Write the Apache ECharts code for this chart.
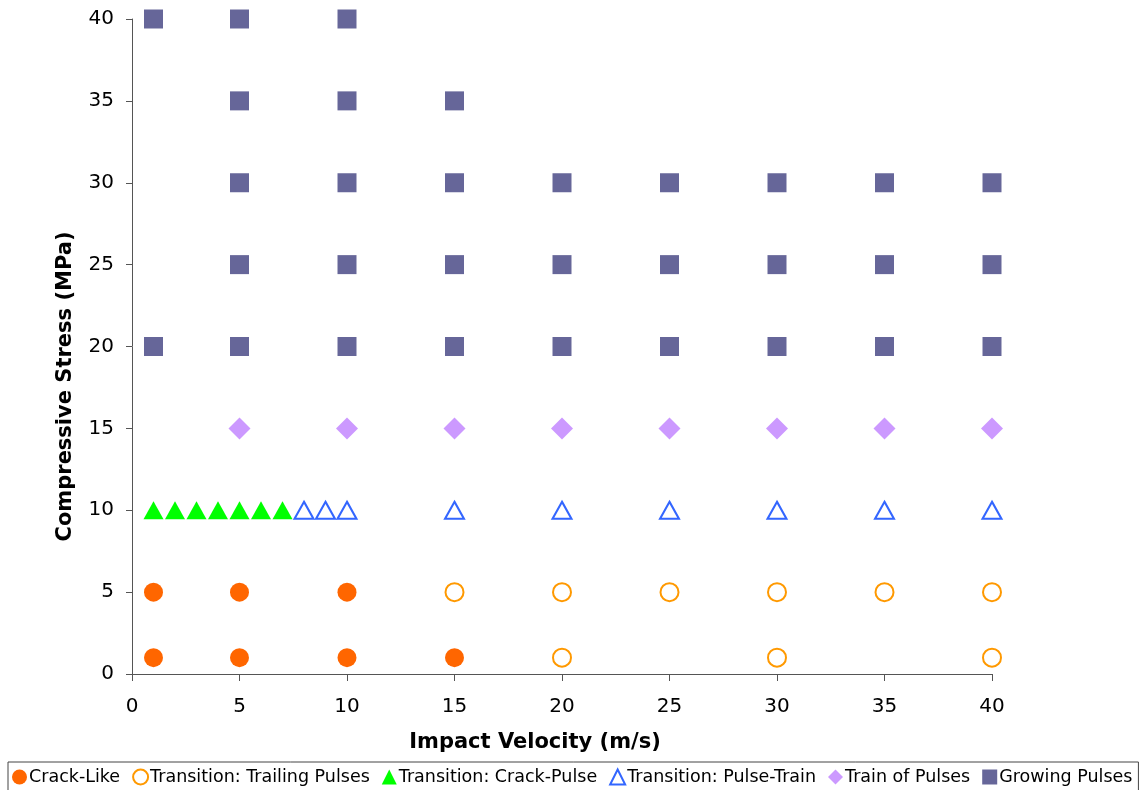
<!DOCTYPE html>
<html lang="en">
<head>
    <meta charset="UTF-8">
    <title>Impact Velocity vs Compressive Stress</title>
    <script type="text/javascript" src="https://cdn.jsdelivr.net/npm/echarts@6/dist/echarts.min.js"></script>
    <style>
        html, body { margin: 0; padding: 0; background: #fff; }
    </style>
</head>
<body>
<div id="main" style="width: 1147px;height:790px;"></div>
<script type="text/javascript">
    // [velocity, stress]
    var crackLike = [[1, 1], [5, 1], [10, 1], [15, 1], [1, 5], [5, 5], [10, 5]];
    var trailingPulses = [[20, 1], [30, 1], [40, 1], [15, 5], [20, 5], [25, 5], [30, 5], [35, 5], [40, 5]];
    var crackPulse = [[1, 10], [2, 10], [3, 10], [4, 10], [5, 10], [6, 10], [7, 10]];
    var pulseTrain = [[8, 10], [9, 10], [10, 10], [15, 10], [20, 10], [25, 10], [30, 10], [35, 10], [40, 10]];
    var trainOfPulses = [[5, 15], [10, 15], [15, 15], [20, 15], [25, 15], [30, 15], [35, 15], [40, 15]];
    var growingPulses = [
        [1, 20], [5, 20], [10, 20], [15, 20], [20, 20], [25, 20], [30, 20], [35, 20], [40, 20],
        [5, 25], [10, 25], [15, 25], [20, 25], [25, 25], [30, 25], [35, 25], [40, 25],
        [5, 30], [10, 30], [15, 30], [20, 30], [25, 30], [30, 30], [35, 30], [40, 30],
        [5, 35], [10, 35], [15, 35],
        [1, 40], [5, 40], [10, 40]
    ];

    var font = 'Verdana, "DejaVu Sans", sans-serif';

    var option = {
        animation: false,
        textStyle: { fontFamily: font },
        legend: {
            left: 8,
            top: 762,
            padding: [6, 6, 8, 4],
            itemGap: 12,
            itemWidth: 15,
            itemHeight: 15,
            borderColor: '#444',
            borderWidth: 1,
            textStyle: { fontFamily: font, fontSize: 17.5, color: '#000', padding: [0, 0, 0, -3] },
            data: ['Crack-Like', 'Transition: Trailing Pulses', 'Transition: Crack-Pulse',
                'Transition: Pulse-Train', 'Train of Pulses', 'Growing Pulses']
        },
        grid: {
            left: 132,
            right: 155,
            top: 19,
            bottom: 116
        },
        xAxis: {
            type: 'value',
            min: 0,
            max: 40,
            interval: 5,
            name: 'Impact Velocity (m/s)',
            nameLocation: 'middle',
            nameGap: 58,
            nameTextStyle: { fontFamily: font, fontSize: 21, fontWeight: 'bold', color: '#000', padding: [0, 54, 0, 0] },
            axisLine: { lineStyle: { color: '#555', width: 1 } },
            axisTick: { length: 7, lineStyle: { color: '#555' } },
            axisLabel: { fontFamily: font, fontSize: 20, color: '#000', margin: 23 },
            splitLine: { show: false }
        },
        yAxis: {
            type: 'value',
            min: 0,
            max: 40,
            interval: 5,
            name: 'Compressive Stress (MPa)',
            nameLocation: 'middle',
            nameGap: 56,
            nameTextStyle: { fontFamily: font, fontSize: 21, fontWeight: 'bold', color: '#000', padding: [0, 80, 0, 0] },
            axisLine: { show: true, lineStyle: { color: '#555', width: 1 } },
            axisTick: { show: true, length: 6, lineStyle: { color: '#555' } },
            axisLabel: { fontFamily: font, fontSize: 20, color: '#000', margin: 18 },
            splitLine: { show: false }
        },
        series: [
            {
                name: 'Crack-Like',
                type: 'scatter',
                symbol: 'circle',
                symbolSize: 19,
                itemStyle: { color: '#FF6600', opacity: 1 },
                data: crackLike
            },
            {
                name: 'Transition: Trailing Pulses',
                type: 'scatter',
                symbol: 'emptyCircle',
                symbolSize: 18,
                itemStyle: { color: '#FF9900', borderWidth: 1.6, opacity: 1 },
                data: trailingPulses
            },
            {
                name: 'Transition: Crack-Pulse',
                type: 'scatter',
                symbol: 'triangle',
                symbolSize: [20, 18],
                itemStyle: { color: '#00FF00', opacity: 1 },
                data: crackPulse
            },
            {
                name: 'Transition: Pulse-Train',
                type: 'scatter',
                symbol: 'emptyTriangle',
                symbolSize: [19, 17],
                itemStyle: { color: '#3366FF', borderWidth: 1.4, opacity: 1 },
                data: pulseTrain
            },
            {
                name: 'Train of Pulses',
                type: 'scatter',
                symbol: 'diamond',
                symbolSize: 22,
                itemStyle: { color: '#CC99FF', opacity: 1 },
                data: trainOfPulses
            },
            {
                name: 'Growing Pulses',
                type: 'scatter',
                symbol: 'rect',
                symbolSize: 19,
                itemStyle: { color: '#666699', opacity: 1 },
                data: growingPulses
            }
        ]
    };

    var myChart = echarts.init(document.getElementById('main'));
    myChart.setOption(option);
</script>
</body>
</html>
